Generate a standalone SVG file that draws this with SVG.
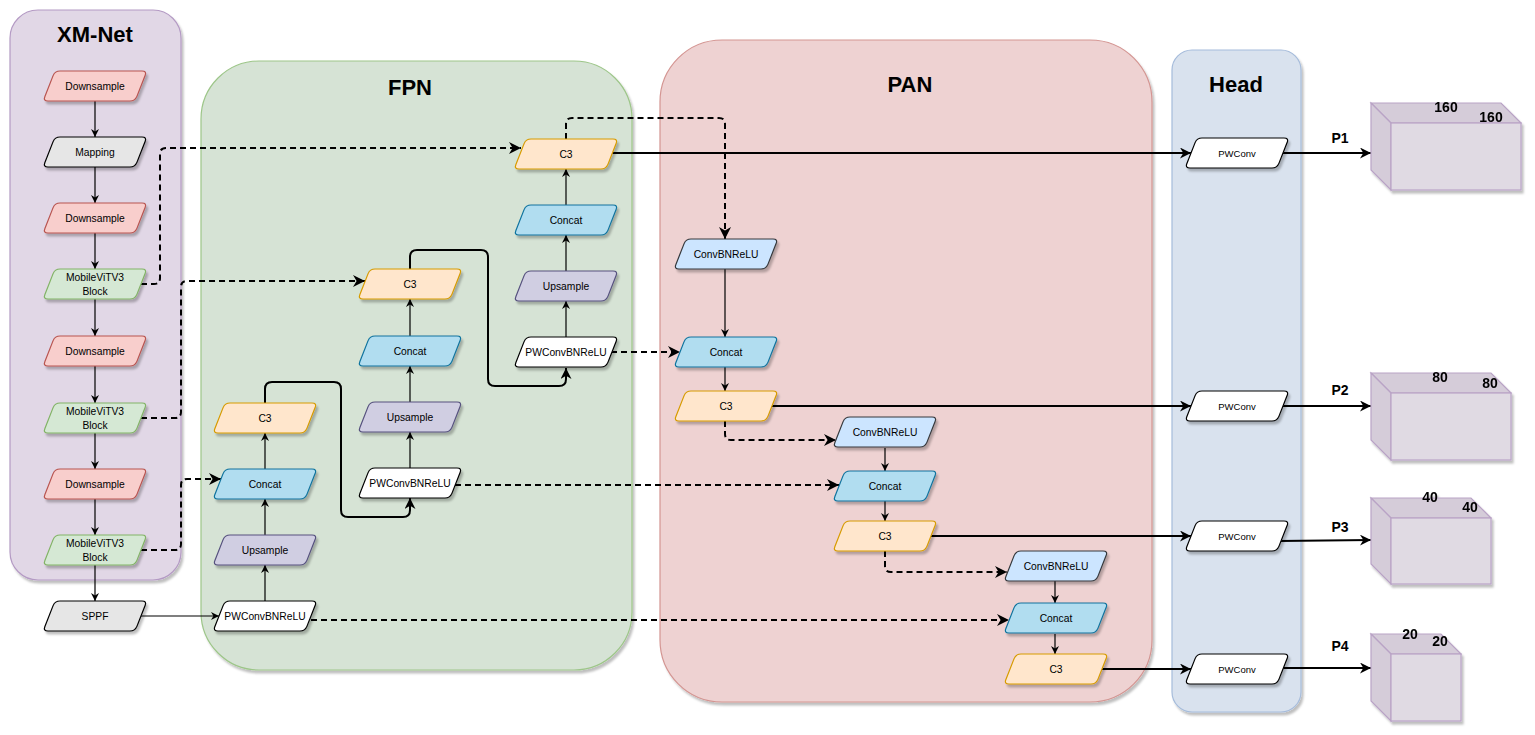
<svg xmlns="http://www.w3.org/2000/svg" xmlns:xlink="http://www.w3.org/1999/xlink" width="1535" height="735" viewBox="0 0 1535 735">
<defs>
<filter id="sh" x="-10%" y="-10%" width="130%" height="140%">
<feDropShadow dx="2" dy="3" stdDeviation="0.8" flood-color="#000" flood-opacity="0.25"/>
</filter>
<path id="para" d="M17,0 H99 Q104,0 102.1,4.6 L93.9,25.4 Q92,30 87,30 H5 Q0,30 1.9,25.4 L10.1,4.6 Q12,0 17,0 Z"/>
<marker id="at" viewBox="0 0 10 10" refX="10" refY="5" markerWidth="8" markerHeight="8" markerUnits="userSpaceOnUse" orient="auto">
<path d="M0,0 L10,5 L0,10 L3,5 Z" fill="#000"/>
</marker>
<marker id="ab" viewBox="0 0 10 10" refX="10" refY="5" markerWidth="11" markerHeight="11" markerUnits="userSpaceOnUse" orient="auto">
<path d="M0,0 L10,5 L0,10 L3,5 Z" fill="#000"/>
</marker>
<marker id="ad" viewBox="0 0 10 10" refX="10" refY="5" markerWidth="13" markerHeight="12" markerUnits="userSpaceOnUse" orient="auto">
<path d="M0,0 L10,5 L0,10 L3,5 Z" fill="#000"/>
</marker>
</defs>
<style>
text{font-family:"Liberation Sans",Arial,sans-serif;fill:#000}
.title{font-size:22px;font-weight:bold;text-anchor:middle}
.nt{font-size:10.3px;text-anchor:middle}
.hp{font-size:9.5px;text-anchor:middle}
.lab{font-size:14px;font-weight:bold;text-anchor:middle}
.node use{filter:url(#sh);stroke-width:1.2}
.red{fill:#f8cecc;stroke:#b85450}
.gray{fill:#e6e6e6;stroke:#000}
.green{fill:#d5e8d4;stroke:#82b366}
.white{fill:#fff;stroke:#000}
.orange{fill:#ffe6cc;stroke:#d79b00}
.blue{fill:#b1ddf0;stroke:#10739e}
.purple{fill:#d0cee2;stroke:#56517e}
.cbr{fill:#cce5ff;stroke:#36393d}
.cont{filter:url(#sh)}
.thin{fill:none;stroke:#000;stroke-width:1.2;marker-end:url(#at)}
.thick{fill:none;stroke:#000;stroke-width:2;marker-end:url(#ab)}
.dash{fill:none;stroke:#000;stroke-width:2;stroke-dasharray:6 4;marker-end:url(#ad)}
.cf{fill:#e0dae3;stroke:#b9a3c6;stroke-width:1.2}
.cs{fill:#d5ccd9;stroke:#b9a3c6;stroke-width:1.2}
</style>

<!-- containers -->
<g id="xmnet-container">
<rect class="cont" x="10" y="10" width="171" height="570" rx="28" fill="#e1d7e6" stroke="#b49ac4" stroke-width="1.2"/>
<text class="title" x="95" y="42">XM-Net</text>
</g>
<g id="fpn-container">
<rect class="cont" x="201" y="61" width="431" height="609" rx="58" fill="#d6e3d5" stroke="#9dc689" stroke-width="1.2"/>
<text class="title" x="410" y="95">FPN</text>
</g>
<g id="pan-container">
<rect class="cont" x="660" y="40" width="492" height="662" rx="62" fill="#eed2d2" stroke="#d49592" stroke-width="1.2"/>
<text class="title" x="910" y="92">PAN</text>
</g>
<g id="head-container">
<rect class="cont" x="1172" y="50" width="129" height="662" rx="20" fill="#d9e2ee" stroke="#a6bcdb" stroke-width="1.2"/>
<text class="title" x="1236" y="92">Head</text>
</g>

<!-- connectors -->
<g id="connectors">
<!-- XM-Net chain -->
<path class="thin" d="M95,101 V137"/>
<path class="thin" d="M95,167 V203"/>
<path class="thin" d="M95,233 V269"/>
<path class="thin" d="M95,299 V336"/>
<path class="thin" d="M95,366 V403"/>
<path class="thin" d="M95,433 V469"/>
<path class="thin" d="M95,499 V535"/>
<path class="thin" d="M95,565 V601"/>
<path class="thin" d="M141,616 H219"/>
<!-- FPN col1 -->
<path class="thin" d="M265,601 V565"/>
<path class="thin" d="M265,535 V499"/>
<path class="thin" d="M265,469 V433"/>
<path class="thick" d="M265,403 V389 Q265,382 272,382 H334 Q341,382 341,389 V510 Q341,517 348,517 H403 Q410,517 410,510 V498"/>
<!-- FPN col2 -->
<path class="thin" d="M410,468 V432"/>
<path class="thin" d="M410,402 V366"/>
<path class="thin" d="M410,336 V299"/>
<path class="thick" d="M410,269 V257 Q410,250 417,250 H481 Q488,250 488,257 V379 Q488,386 495,386 H559 Q566,386 566,379 V368"/>
<!-- FPN col3 -->
<path class="thin" d="M566,337 V301"/>
<path class="thin" d="M566,271 V235"/>
<path class="thin" d="M566,205 V169"/>
<!-- PAN -->
<path class="thin" d="M725,269 V337"/>
<path class="thin" d="M725,367 V391"/>
<path class="thin" d="M885,448 V471"/>
<path class="thin" d="M885,501 V521"/>
<path class="thin" d="M1055,581 V603"/>
<path class="thin" d="M1055,634 V654"/>
<!-- dashed skip links -->
<path class="dash" d="M141,284 H154 Q160,284 160,278 V154 Q160,148 166,148 H521"/>
<path class="dash" d="M141,418 H175 Q181,418 181,412 V287 Q181,281 187,281 H365"/>
<path class="dash" d="M141,550 H175 Q181,550 181,544 V485 Q181,479 187,479 H221"/>
<path class="dash" d="M311,620 H1009"/>
<path class="dash" d="M455,485 H839"/>
<path class="dash" d="M611,352 H680"/>
<path class="dash" d="M566,139 V124 Q566,118 572,118 H719 Q725,118 725,124 V239"/>
<path class="dash" d="M725,421 V434 Q725,440 731,440 H836"/>
<path class="dash" d="M885,551 V566 Q885,572 891,572 H1007"/>
<!-- to head -->
<path class="thick" d="M611,153 H1191"/>
<path class="thick" d="M771,406 H1191"/>
<path class="thick" d="M931,536 H1191"/>
<path class="thick" d="M1101,669 H1191"/>
<!-- head to outputs -->
<path class="thick" d="M1282,153 H1371"/>
<path class="thick" d="M1282,406 H1371"/>
<path class="thick" d="M1279,541 L1371,540"/>
<path class="thick" d="M1282,668 H1371"/>
</g>

<!-- XM-Net nodes -->
<g id="xm-downsample1" class="node" transform="translate(43,71)"><use xlink:href="#para" class="red"/><text class="nt" x="52" y="19">Downsample</text></g>
<g id="xm-mapping" class="node" transform="translate(43,137)"><use xlink:href="#para" class="gray"/><text class="nt" x="52" y="19">Mapping</text></g>
<g id="xm-downsample2" class="node" transform="translate(43,203)"><use xlink:href="#para" class="red"/><text class="nt" x="52" y="19">Downsample</text></g>
<g id="xm-mvit1" class="node" transform="translate(43,269)"><use xlink:href="#para" class="green"/><text class="nt" x="52" y="12">MobileViTV3</text><text class="nt" x="52" y="26">Block</text></g>
<g id="xm-downsample3" class="node" transform="translate(43,336)"><use xlink:href="#para" class="red"/><text class="nt" x="52" y="19">Downsample</text></g>
<g id="xm-mvit2" class="node" transform="translate(43,403)"><use xlink:href="#para" class="green"/><text class="nt" x="52" y="12">MobileViTV3</text><text class="nt" x="52" y="26">Block</text></g>
<g id="xm-downsample4" class="node" transform="translate(43,469)"><use xlink:href="#para" class="red"/><text class="nt" x="52" y="19">Downsample</text></g>
<g id="xm-mvit3" class="node" transform="translate(43,535)"><use xlink:href="#para" class="green"/><text class="nt" x="52" y="12">MobileViTV3</text><text class="nt" x="52" y="26">Block</text></g>
<g id="sppf" class="node" transform="translate(43,601)"><use xlink:href="#para" class="gray"/><text class="nt" x="52" y="19">SPPF</text></g>

<!-- FPN nodes -->
<g id="fpn-pw1" class="node" transform="translate(213,601)"><use xlink:href="#para" class="white"/><text class="nt" x="52" y="19">PWConvBNReLU</text></g>
<g id="fpn-up1" class="node" transform="translate(213,535)"><use xlink:href="#para" class="purple"/><text class="nt" x="52" y="19">Upsample</text></g>
<g id="fpn-concat1" class="node" transform="translate(213,469)"><use xlink:href="#para" class="blue"/><text class="nt" x="52" y="19">Concat</text></g>
<g id="fpn-c3-1" class="node" transform="translate(213,403)"><use xlink:href="#para" class="orange"/><text class="nt" x="52" y="19">C3</text></g>
<g id="fpn-pw2" class="node" transform="translate(358,468)"><use xlink:href="#para" class="white"/><text class="nt" x="52" y="19">PWConvBNReLU</text></g>
<g id="fpn-up2" class="node" transform="translate(358,402)"><use xlink:href="#para" class="purple"/><text class="nt" x="52" y="19">Upsample</text></g>
<g id="fpn-concat2" class="node" transform="translate(358,336)"><use xlink:href="#para" class="blue"/><text class="nt" x="52" y="19">Concat</text></g>
<g id="fpn-c3-2" class="node" transform="translate(358,269)"><use xlink:href="#para" class="orange"/><text class="nt" x="52" y="19">C3</text></g>
<g id="fpn-pw3" class="node" transform="translate(514,337)"><use xlink:href="#para" class="white"/><text class="nt" x="52" y="19">PWConvBNReLU</text></g>
<g id="fpn-up3" class="node" transform="translate(514,271)"><use xlink:href="#para" class="purple"/><text class="nt" x="52" y="19">Upsample</text></g>
<g id="fpn-concat3" class="node" transform="translate(514,205)"><use xlink:href="#para" class="blue"/><text class="nt" x="52" y="19">Concat</text></g>
<g id="fpn-c3-3" class="node" transform="translate(514,139)"><use xlink:href="#para" class="orange"/><text class="nt" x="52" y="19">C3</text></g>

<!-- PAN nodes -->
<g id="pan-cbr1" class="node" transform="translate(674,239)"><use xlink:href="#para" class="cbr"/><text class="nt" x="52" y="19">ConvBNReLU</text></g>
<g id="pan-concat1" class="node" transform="translate(674,337)"><use xlink:href="#para" class="blue"/><text class="nt" x="52" y="19">Concat</text></g>
<g id="pan-c3-1" class="node" transform="translate(674,391)"><use xlink:href="#para" class="orange"/><text class="nt" x="52" y="19">C3</text></g>
<g id="pan-cbr2" class="node" transform="translate(833,417)"><use xlink:href="#para" class="cbr"/><text class="nt" x="52" y="19">ConvBNReLU</text></g>
<g id="pan-concat2" class="node" transform="translate(833,471)"><use xlink:href="#para" class="blue"/><text class="nt" x="52" y="19">Concat</text></g>
<g id="pan-c3-2" class="node" transform="translate(833,521)"><use xlink:href="#para" class="orange"/><text class="nt" x="52" y="19">C3</text></g>
<g id="pan-cbr3" class="node" transform="translate(1004,551)"><use xlink:href="#para" class="cbr"/><text class="nt" x="52" y="19">ConvBNReLU</text></g>
<g id="pan-concat3" class="node" transform="translate(1004,603)"><use xlink:href="#para" class="blue"/><text class="nt" x="52" y="19">Concat</text></g>
<g id="pan-c3-3" class="node" transform="translate(1004,654)"><use xlink:href="#para" class="orange"/><text class="nt" x="52" y="19">C3</text></g>

<!-- Head nodes -->
<g id="head-pw1" class="node" transform="translate(1185,138)"><use xlink:href="#para" class="white"/><text class="hp" x="52" y="18.5">PWConv</text></g>
<g id="head-pw2" class="node" transform="translate(1185,391)"><use xlink:href="#para" class="white"/><text class="hp" x="52" y="18.5">PWConv</text></g>
<g id="head-pw3" class="node" transform="translate(1185,521)"><use xlink:href="#para" class="white"/><text class="hp" x="52" y="18.5">PWConv</text></g>
<g id="head-pw4" class="node" transform="translate(1185,654)"><use xlink:href="#para" class="white"/><text class="hp" x="52" y="18.5">PWConv</text></g>

<!-- output labels -->
<g id="label-p1"><text class="lab" x="1340" y="143">P1</text></g>
<g id="label-p2"><text class="lab" x="1340" y="395">P2</text></g>
<g id="label-p3"><text class="lab" x="1340" y="532">P3</text></g>
<g id="label-p4"><text class="lab" x="1340" y="651">P4</text></g>

<!-- output cubes -->
<g id="cube-p1" filter="url(#sh)">
<polygon class="cs" points="1371,103 1501,103 1521,123 1391,123"/>
<polygon class="cs" points="1371,103 1391,123 1391,190 1371,170"/>
<rect class="cf" x="1391" y="123" width="130" height="67"/>
<text class="lab" x="1446" y="112">160</text>
<text class="lab" x="1491" y="122">160</text>
</g>
<g id="cube-p2" filter="url(#sh)">
<polygon class="cs" points="1371,373 1491,373 1511,393 1391,393"/>
<polygon class="cs" points="1371,373 1391,393 1391,460 1371,440"/>
<rect class="cf" x="1391" y="393" width="120" height="67"/>
<text class="lab" x="1440" y="382">80</text>
<text class="lab" x="1490" y="388">80</text>
</g>
<g id="cube-p3" filter="url(#sh)">
<polygon class="cs" points="1371,498 1471,498 1491,518 1391,518"/>
<polygon class="cs" points="1371,498 1391,518 1391,584 1371,564"/>
<rect class="cf" x="1391" y="518" width="100" height="66"/>
<text class="lab" x="1430" y="502">40</text>
<text class="lab" x="1470" y="512">40</text>
</g>
<g id="cube-p4" filter="url(#sh)">
<polygon class="cs" points="1371,634 1441,634 1461,654 1391,654"/>
<polygon class="cs" points="1371,634 1391,654 1391,721 1371,701"/>
<rect class="cf" x="1391" y="654" width="70" height="67"/>
<text class="lab" x="1410" y="639">20</text>
<text class="lab" x="1440" y="646">20</text>
</g>
</svg>
